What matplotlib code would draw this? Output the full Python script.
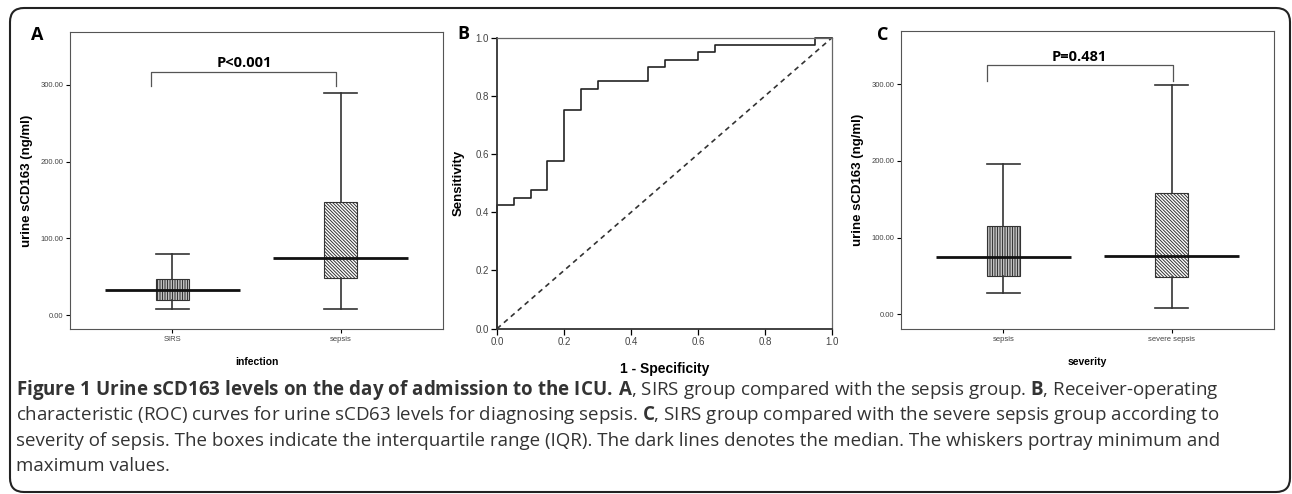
import numpy as np
import matplotlib
matplotlib.use('Agg')
import matplotlib.pyplot as plt
from matplotlib.patches import FancyBboxPatch
from matplotlib.transforms import IdentityTransform

plt.rcParams['font.family'] = ['Liberation Sans', 'DejaVu Sans']
plt.rcParams['hatch.linewidth'] = 0.7
plt.rcParams['mathtext.fontset'] = 'custom'
plt.rcParams['mathtext.bf'] = 'Open Sans:bold'
plt.rcParams['mathtext.rm'] = 'Open Sans'

# --- panel A: infection (min, q1, median, q3, max) ---
inf_groups = ['SIRS', 'sepsis']
inf_min = [7.8, 8.2]
inf_q1 = [19.6, 49.0]
inf_med = [32.6, 75.0]
inf_q3 = [47.0, 147.7]
inf_max = [80.0, 289.0]
inf_p = 'P<0.001'

# --- panel B: ROC curve ---
fpr = [0.0, 0.0, 0.05, 0.10, 0.15, 0.20, 0.25, 0.30, 0.45, 0.50, 0.60, 0.65, 0.95, 1.0]
tpr = [0.0, 0.425, 0.45, 0.475, 0.575, 0.75, 0.825, 0.85, 0.90, 0.925, 0.95, 0.975, 1.0, 1.0]
roc_ticks = [0.0, 0.2, 0.4, 0.6, 0.8, 1.0]

# --- panel C: severity ---
sev_groups = ['sepsis', 'severe sepsis']
sev_min = [27.8, 7.8]
sev_q1 = [50.0, 49.0]
sev_med = [74.3, 76.4]
sev_q3 = [115.0, 158.5]
sev_max = [196.3, 299.4]
sev_p = 'P=0.481'

box_ticks = [0, 100, 200, 300]
hatches = ['||||||||||', '\\\\\\\\\\\\\\\\\\\\']

W, H = 1292, 494
fig = plt.figure(figsize=(W / 100, H / 100), dpi=100)


def box_panel(ax, groups, lo, q1, med, q3, hi, ptext, bracket, ylim, xlabel):
    pos = np.arange(1, len(groups) + 1)
    stats = [dict(whislo=a, q1=b, med=c, q3=d, whishi=e, fliers=[])
             for a, b, c, d, e in zip(lo, q1, med, q3, hi)]
    bp = ax.bxp(stats, positions=pos, widths=0.2, capwidths=0.2, patch_artist=True,
                showfliers=False,
                boxprops=dict(facecolor='white', edgecolor='#333', linewidth=0.8),
                whiskerprops=dict(color='#333', linewidth=1.2),
                capprops=dict(color='#333', linewidth=1.2),
                medianprops=dict(visible=False))
    for patch, h in zip(bp['boxes'], hatches):
        patch.set_hatch(h)
    ax.hlines(med, pos - 0.4, pos + 0.4, color='#111', lw=2.0, zorder=5)

    # significance bracket
    x1, x2, yb, yt = bracket
    ax.plot([x1, x1, x2, x2], [yb, yt, yt, yb], color='#555', lw=0.9)
    ax.text((x1 + x2) / 2, yt + 11, ptext, ha='center', va='center',
            fontsize=10.5, fontweight='bold', family='Open Sans')

    ax.set_xlim(0.39, 2.61)
    ax.set_ylim(*ylim)
    ax.set_yticks(box_ticks)
    ax.set_yticklabels([f'{v:.2f}' for v in box_ticks])
    ax.set_xticks(pos)
    ax.set_xticklabels(groups)
    ax.tick_params(direction='out', length=3, width=0.8, labelsize=5.5,
                   labelcolor='#444', pad=2)
    for s in ax.spines.values():
        s.set_color('#555')
        s.set_linewidth(0.8)
    ax.set_ylabel('urine sCD163 (ng/ml)', fontsize=9.5, fontweight='bold')
    ax.yaxis.set_label_coords(-0.099, 0.5)
    ax.set_xlabel(xlabel, fontsize=7.5, fontweight='bold')
    ax.xaxis.set_label_coords(0.5, -0.094)


axA = fig.add_axes([70 / W, 1 - 329 / H, 373 / W, 297 / H])
box_panel(axA, inf_groups, inf_min, inf_q1, inf_med, inf_q3, inf_max, inf_p,
          (0.875, 1.976, 299, 317), (-18, 369), 'infection')

axC = fig.add_axes([901 / W, 1 - 329.3 / H, 373 / W, 298.6 / H])
box_panel(axC, sev_groups, sev_min, sev_q1, sev_med, sev_q3, sev_max, sev_p,
          (0.90, 2.006, 305, 325), (-19.6, 370), 'severity')

# ROC panel
axB = fig.add_axes([497 / W, 1 - 328.7 / H, 335 / W, 291 / H])
axB.step(fpr, tpr, where='post', color='#222', lw=1.2, clip_on=False)
axB.plot([0, 1], [0, 1], ls=(0, (3, 2.5)), color='#333', lw=1.2)
axB.set_xlim(0, 1)
axB.set_ylim(0, 1)
axB.set_xticks(roc_ticks)
axB.set_yticks(roc_ticks)
axB.set_xticklabels([f'{v:.1f}' for v in roc_ticks])
axB.set_yticklabels([f'{v:.1f}' for v in roc_ticks])
axB.tick_params(direction='out', length=4, width=0.9, labelsize=7,
                labelcolor='#444', pad=2)
for side in ['left', 'bottom']:
    axB.spines[side].set_color('#333')
    axB.spines[side].set_linewidth(1.3)
for side in ['top', 'right']:
    axB.spines[side].set_color('#666')
    axB.spines[side].set_linewidth(0.9)
axB.set_ylabel('Sensitivity', fontsize=9.5, fontweight='bold')
axB.yaxis.set_label_coords(-0.096, 0.5)
axB.set_xlabel('1 - Specificity', fontsize=10, fontweight='bold')
axB.xaxis.set_label_coords(0.5, -0.114)

# panel letters
for lab, px, py in [('A', 37, 35), ('B', 463, 34), ('C', 883, 35)]:
    fig.text(px / W, 1 - py / H, lab, fontsize=13, fontweight='bold',
             family='Open Sans', ha='center', va='center')

# caption
caption = [
    r'$\mathbf{Figure\;1\;Urine\;sCD163\;levels\;on\;the\;day\;of\;admission\;to\;the\;ICU.\,A}$'
    r', SIRS group compared with the sepsis group. $\mathbf{B}$, Receiver-operating',
    r'characteristic (ROC) curves for urine sCD63 levels for diagnosing sepsis. '
    r'$\mathbf{C}$, SIRS group compared with the severe sepsis group according to',
    'severity of sepsis. The boxes indicate the interquartile range (IQR). '
    'The dark lines denotes the median. The whiskers portray minimum and',
    'maximum values.',
]
for line, base in zip(caption, [395, 420.5, 446, 471]):
    fig.text(16 / W, 1 - base / H, line, fontsize=13.5, family='Open Sans',
             color='#333', va='baseline')

# rounded frame
frame = FancyBboxPatch((10, 2), 1280, 484, boxstyle='round,pad=0,rounding_size=14',
                       transform=IdentityTransform(), fill=False,
                       edgecolor='#222', lw=1.5)
fig.add_artist(frame)

fig.savefig('out.png', dpi=100)
